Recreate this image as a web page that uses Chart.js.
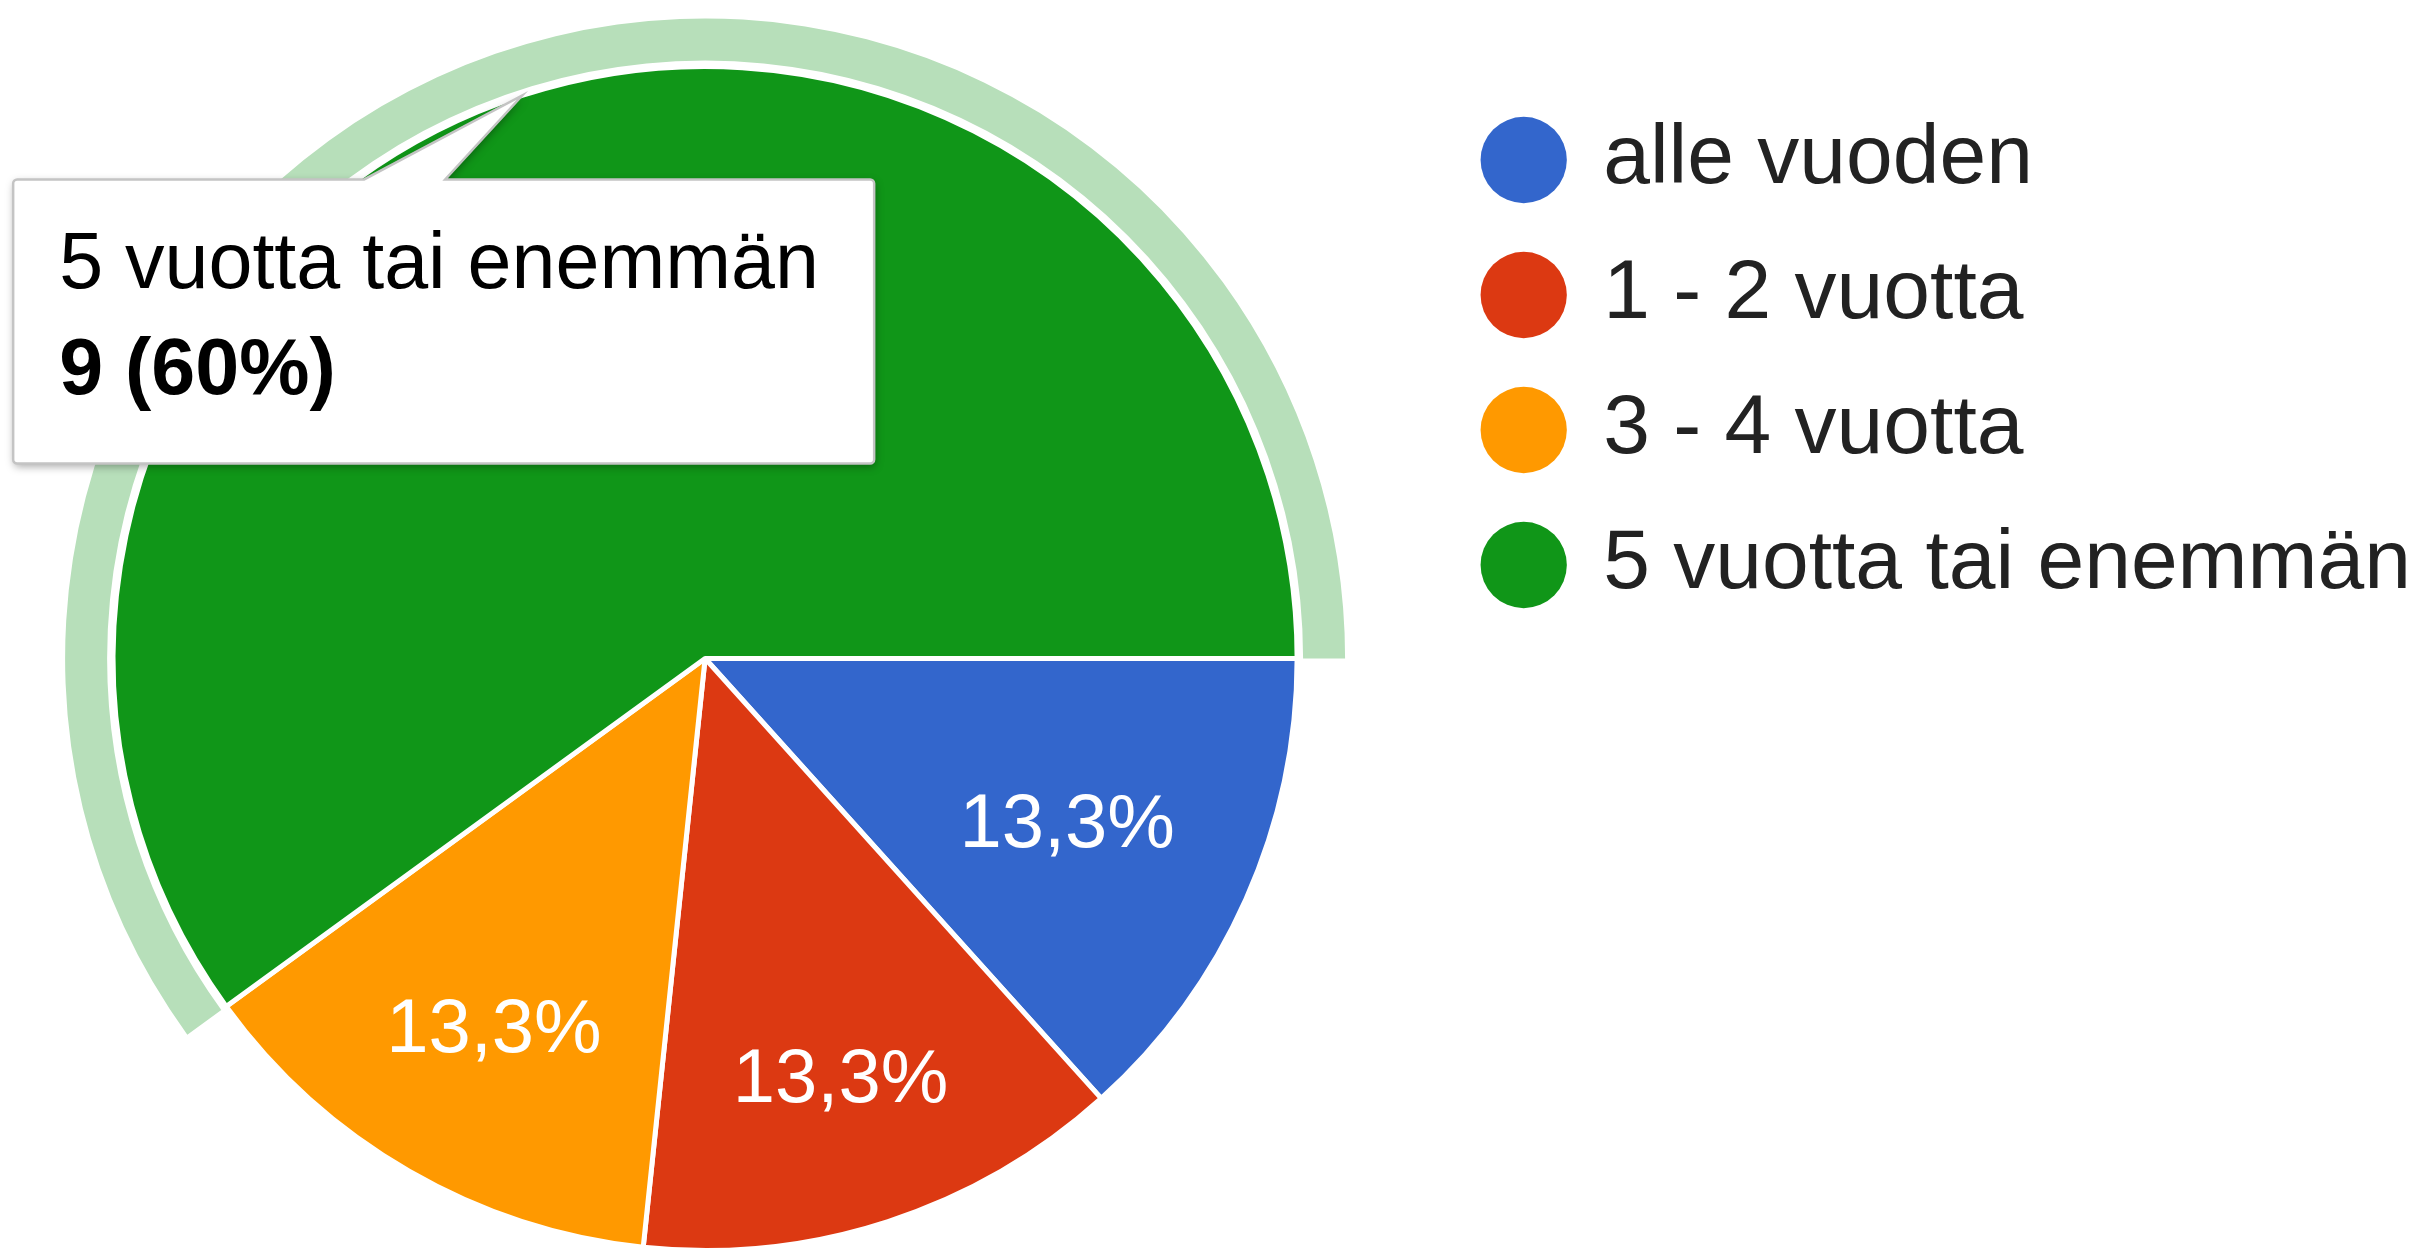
<!DOCTYPE html>
<html>
<head>
<meta charset="utf-8">
<script src="https://cdn.jsdelivr.net/npm/chart.js@4.4.1/dist/chart.umd.min.js"></script>
<style>
  html, body { margin: 0; padding: 0; background: #ffffff; overflow: hidden; }
  #wrap { width: 2449px; height: 1250px; position: relative; margin-left: -25px; }
</style>
</head>
<body>
<div id="wrap"><canvas id="c"></canvas></div>
<script>
// ---- data ----
const categories = ['alle vuoden', '1 - 2 vuotta', '3 - 4 vuotta', '5 vuotta tai enemmän'];
const counts = [2, 2, 2, 9];
const sliceColors = ['#3366cc', '#dc3912', '#ff9900', '#109618'];
const highlightColor = '#b7dfba';
const highlightIndex = 3;

// ---- style constants ----
const FONT = '"Liberation Sans", Arial, sans-serif';
const LABEL_FONT = 76;
const TIP_FONT = 79;

function pctText(v, total) {
  const p = Math.round(v / total * 1000) / 10;
  return String(p).replace('.', ',') + '%';
}
const total = counts.reduce((a, b) => a + b, 0);

Chart.defaults.font.family = FONT;

// highlight ring + slice labels
const sliceDecor = {
  id: 'sliceDecor',
  afterDatasetsDraw(chart) {
    const ctx = chart.ctx;
    const meta = chart.getDatasetMeta(0);
    const hp = meta.data[highlightIndex].getProps(['x', 'y', 'startAngle', 'endAngle', 'outerRadius'], true);
    ctx.save();
    ctx.beginPath();
    ctx.arc(hp.x, hp.y, hp.outerRadius + 48, hp.startAngle, hp.endAngle);
    ctx.arc(hp.x, hp.y, hp.outerRadius + 6, hp.endAngle, hp.startAngle, true);
    ctx.closePath();
    ctx.fillStyle = highlightColor;
    ctx.fill();
    ctx.restore();

    ctx.save();
    ctx.font = LABEL_FONT + 'px ' + FONT;
    ctx.fillStyle = '#ffffff';
    ctx.textAlign = 'center';
    ctx.textBaseline = 'alphabetic';
    meta.data.forEach((arc, i) => {
      const p = arc.getProps(['x', 'y', 'startAngle', 'endAngle', 'outerRadius'], true);
      const mid = (p.startAngle + p.endAngle) / 2;
      const txt = pctText(counts[i], total);
      const w = ctx.measureText(txt).width / 2;
      const h = LABEL_FONT * 0.716 / 2;
      const c = Math.cos(mid), s = Math.sin(mid);
      const a = Math.sign(c) * w, b = Math.sign(s) * h;
      const Rl = p.outerRadius * 0.855;
      const k = c * a + s * b;
      const d = -k + Math.sqrt(Math.max(0, k * k - (a * a + b * b - Rl * Rl)));
      ctx.fillText(txt, p.x + c * d, p.y + s * d + h);
    });
    ctx.restore();
  }
};

// tooltip-like callout for highlighted slice
const callout = {
  id: 'callout',
  afterDraw(chart) {
    const ctx = chart.ctx;
    const arc = chart.getDatasetMeta(0).data[highlightIndex];
    const p = arc.getProps(['x', 'y', 'startAngle', 'endAngle', 'outerRadius'], true);
    const mid = (p.startAngle + p.endAngle) / 2;
    const tipX = p.x + Math.cos(mid) * p.outerRadius;
    const tipY = p.y + Math.sin(mid) * p.outerRadius;

    const left = tipX - 509, top = tipY + 84, width = 861, height = 284;
    const right = left + width, bottom = top + height, r = 4;
    const baseL = tipX - 158, baseR = tipX - 77;

    const path = () => {
      ctx.beginPath();
      ctx.moveTo(left + r, top);
      ctx.lineTo(baseL, top);
      ctx.lineTo(tipX, tipY);
      ctx.lineTo(baseR, top);
      ctx.lineTo(right - r, top);
      ctx.arcTo(right, top, right, top + r, r);
      ctx.lineTo(right, bottom - r);
      ctx.arcTo(right, bottom, right - r, bottom, r);
      ctx.lineTo(left + r, bottom);
      ctx.arcTo(left, bottom, left, bottom - r, r);
      ctx.lineTo(left, top + r);
      ctx.arcTo(left, top, left + r, top, r);
      ctx.closePath();
    };

    ctx.save();
    ctx.shadowColor = 'rgba(0,0,0,0.35)';
    ctx.shadowBlur = 8;
    ctx.shadowOffsetX = 1;
    ctx.shadowOffsetY = 3;
    path();
    ctx.fillStyle = '#ffffff';
    ctx.fill();
    ctx.restore();

    ctx.save();
    path();
    ctx.strokeStyle = '#c4c4c4';
    ctx.lineWidth = 2.5;
    ctx.stroke();
    ctx.restore();

    ctx.save();
    ctx.fillStyle = '#000000';
    ctx.textAlign = 'left';
    ctx.textBaseline = 'alphabetic';
    ctx.font = TIP_FONT + 'px ' + FONT;
    ctx.fillText(categories[highlightIndex], left + 46, top + 109);
    ctx.font = 'bold ' + TIP_FONT + 'px ' + FONT;
    ctx.fillText(counts[highlightIndex] + ' (' + pctText(counts[highlightIndex], total) + ')', left + 46, top + 215);
    ctx.restore();
  }
};

const baseGen = (Chart.overrides && Chart.overrides.pie && Chart.overrides.pie.plugins.legend.labels.generateLabels)
  || Chart.controllers.doughnut.overrides.plugins.legend.labels.generateLabels;

new Chart(document.getElementById('c'), {
  type: 'pie',
  data: {
    labels: categories,
    datasets: [{
      data: counts,
      backgroundColor: sliceColors,
      borderColor: '#ffffff',
      borderWidth: 5,
      hoverOffset: 0,
      radius: 592
    }]
  },
  options: {
    responsive: true,
    maintainAspectRatio: false,
    animation: false,
    events: [],
    devicePixelRatio: 1,
    rotation: 90,
    layout: { padding: { left: 0, right: 3, top: 67, bottom: 0 } },
    plugins: {
      tooltip: { enabled: false },
      legend: {
        position: 'right',
        align: 'start',
        labels: {
          usePointStyle: true,
          pointStyle: 'circle',
          boxWidth: 75,
          boxHeight: 61,
          padding: 51,
          color: '#222222',
          font: { size: 84, family: FONT },
          generateLabels: (chart) => baseGen(chart).map(l => Object.assign(l, { lineWidth: 0, strokeStyle: 'rgba(0,0,0,0)' }))
        }
      }
    }
  },
  plugins: [sliceDecor, callout]
});
</script>
</body>
</html>
